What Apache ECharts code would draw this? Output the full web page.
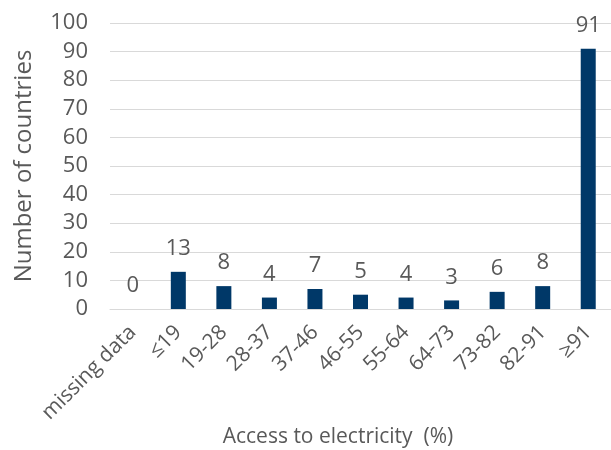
<!DOCTYPE html>
<html><head><meta charset="utf-8">
<script src="https://cdn.jsdelivr.net/npm/echarts@6/dist/echarts.min.js"></script>
<style>html,body{margin:0;padding:0;background:#fff}#c{width:611px;height:450px}</style>
</head><body><div id="c"></div>
<script>
const categories = ['missing data','≤19','19-28','28-37','37-46','46-55','55-64','64-73','73-82','82-91','≥91'];
const counts = [0,13,8,4,7,5,4,3,6,8,91];
const yTicks = [0,10,20,30,40,50,60,70,80,90,100];
const xTitle = 'Access to electricity  (%)';
const yTitle = 'Number of countries';

const FONT = '"Open Sans"';
const GRAY = '#595959';
const chart = echarts.init(document.getElementById('c'), null, {renderer:'canvas'});
chart.setOption({
  animation:false,
  backgroundColor:'#fff',
  textStyle:{fontFamily:FONT},
  grid:{left:110, top:23, width:508, height:286, containLabel:false},
  xAxis:{
    type:'category', data:categories,
    axisLine:{show:true, lineStyle:{color:'#d9d9d9'}},
    axisTick:{show:false},
    axisLabel:{rotate:45, color:GRAY, fontSize:21, fontFamily:FONT, margin:20, interval:0}
  },
  yAxis:{
    type:'value', min:0, max:100, interval:10,
    axisLine:{show:false}, axisTick:{show:false},
    axisLabel:{color:GRAY, fontSize:22, fontFamily:FONT, margin:22,
      formatter:v=>yTicks.includes(v)?String(v):''},
    splitLine:{lineStyle:{color:'#d9d9d9', width:1}}
  },
  graphic:[
    {type:'text', x:338, y:437, style:{text:xTitle, fill:GRAY, font:'21px '+FONT, textAlign:'center', textVerticalAlign:'middle'}},
    {type:'text', x:24, y:166, rotation:Math.PI/2, style:{text:yTitle, fill:GRAY, font:'24px '+FONT, textAlign:'center', textVerticalAlign:'middle'}}
  ],
  series:[{
    type:'bar', data:counts, barWidth:15,
    itemStyle:{color:'#003868'},
    label:{show:true, position:'top', distance:12, color:GRAY, fontSize:22, fontFamily:FONT}
  }]
});
</script></body></html>
